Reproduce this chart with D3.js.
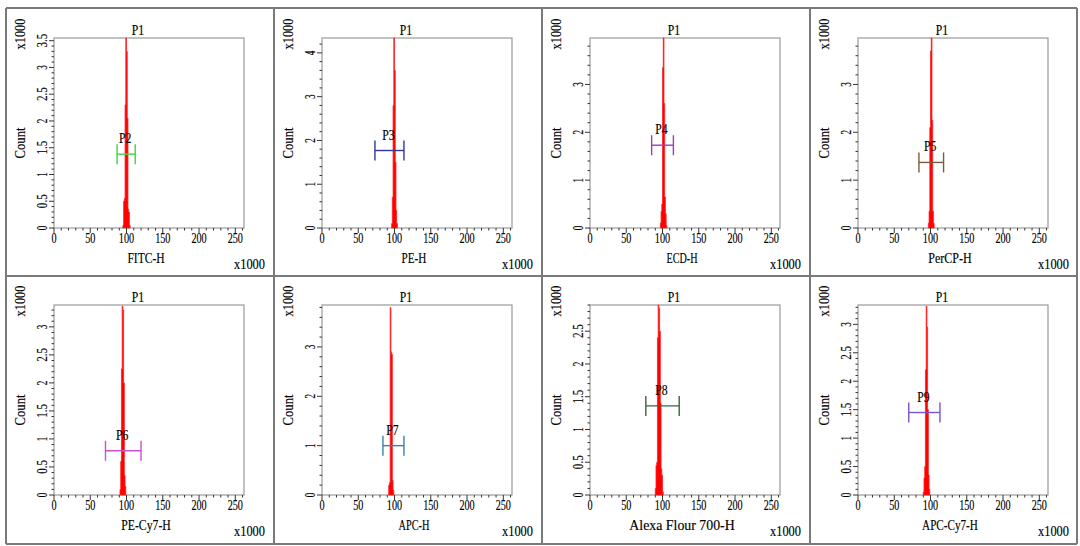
<!DOCTYPE html>
<html>
<head>
<meta charset="utf-8">
<script src="https://cdn.jsdelivr.net/npm/d3@7"></script>
<style>
  body { margin: 0; background: #fff; }
  text { font-family: "Liberation Serif", "DejaVu Serif", serif; font-size: 14px; fill: #000; stroke: #000; stroke-width: 0.15px; }
</style>
</head>
<body>
<svg id="chart" width="1080" height="546"></svg>
<script>

// channel names, one per panel (row by row)
var channels = ["FITC-H", "PE-H", "ECD-H", "PerCP-H", "PE-Cy7-H", "APC-H", "Alexa Flour 700-H", "APC-Cy7-H"];

// y axis max (count x1000) and labelled tick step
var yMax = [3.55, 4.34, 3.97, 3.97, 3.39, 3.85, 2.9, 3.34];
var yStep = [0.5, 1, 1, 1, 0.5, 1, 0.5, 0.5];

// histogram: first bin (x1000) and counts (x1000) per bin of width 1
var binStart = [95, 96, 97, 97, 91, 92, 90, 90];
var counts = [
	[0.05, 0.5, 0.55, 2.3, 3.55, 3.3, 2.05, 0.35, 0.3, 0.05],
	[0.1, 0.7, 2.8, 4.34, 3.6, 1.5, 0.4, 0.1],
	[0.1, 0.35, 0.5, 3.35, 3.97, 2.6, 0.65, 0.3, 0.05],
	[0.1, 0.35, 2.1, 3.7, 3.97, 2.25, 0.35, 0.1],
	[0.1, 0.6, 2.25, 3.37, 3.3, 2.0, 0.35, 0.15],
	[0.2, 0.25, 3.8, 2.9, 2.85, 0.3, 0.1],
	[0.1, 0.45, 0.5, 2.4, 2.9, 2.85, 2.5, 1.4, 0.4, 0.3, 0.05],
	[0.05, 0.3, 0.5, 2.2, 3.32, 2.95, 1.5, 0.35, 0.1]
];

// gate markers: name, left, right (x1000), level (count x1000), colour
var gateNames = ["P2", "P3", "P4", "P5", "P6", "P7", "P8", "P9"];
var gateLo = [87, 73, 85, 84, 71, 84, 77, 70];
var gateHi = [112, 113, 115, 118, 120, 113, 123, 113];
var gateY = [1.38, 1.77, 1.73, 1.37, 0.79, 1.0, 1.36, 1.45];
var gateColor = ["#3fd83f", "#34349a", "#9a3fb8", "#7a5c3a", "#cc4fcc", "#3a7fb0", "#376637", "#7a52cc"];

var xTicks = [0, 50, 100, 150, 200, 250];

var svg = d3.select("#chart");

var colX = [6, 274, 542, 810, 1077];
var rowY = [8, 276, 544];
var fw = 190, fh = 190;

function fit(sel, per) {
	sel.each(function() {
		var t = d3.select(this);
		t.attr("textLength", t.text().length * per).attr("lengthAdjust", "spacingAndGlyphs");
	});
}

function drawPanel(i) {
	var col = i % 4, row = Math.floor(i / 4);
	var fx = colX[col] + 48, fy = rowY[row] + (row == 0 ? 30 : 29);
	var g = svg.append("g").attr("transform", "translate(" + fx + "," + fy + ")");

	var x = d3.scaleLinear().domain([0, 262]).range([0, fw]);
	var y = d3.scaleLinear().domain([0, yMax[i]]).range([fh, 0]);

	g.append("rect")
		.attr("width", fw)
		.attr("height", fh)
		.attr("fill", "#fff")
		.attr("stroke", "#9a9a9a")
		.attr("stroke-width", 1.2);

	// histogram
	var pts = counts[i].map(function(c, k) { return [binStart[i] + k, c]; });
	pts.push([binStart[i] + counts[i].length, 0]);
	var area = d3.area()
		.x(function(d) { return x(d[0]); })
		.y0(fh)
		.y1(function(d) { return y(d[1]); })
		.curve(d3.curveStepAfter);
	g.append("path")
		.datum(pts)
		.attr("d", area)
		.attr("fill", "#f00")
		.attr("stroke", "#f22")
		.attr("stroke-width", 0.8);

	// x axis
	var xMinor = d3.range(0, 262, 10);
	g.selectAll(".xminor").data(xMinor).enter().append("line")
		.attr("x1", x).attr("x2", x)
		.attr("y1", fh).attr("y2", function(d) { return d % 50 == 0 ? fh + 5 : fh + 2.5; })
		.attr("stroke", "#333");
	var xl = g.selectAll(".xlab").data(xTicks).enter().append("text")
		.attr("x", x)
		.attr("y", fh + 10.5)
		.attr("dy", "0.35em")
		.attr("text-anchor", "middle")
		.text(function(d) { return d; });
	fit(xl, 5.1);

	// y axis
	var minor = yStep[i] / 5;
	var yMinor = d3.range(0, Math.floor(yMax[i] / minor + 1e-6) + 1).map(function(k) { return k * minor; });
	g.selectAll(".yminor").data(yMinor).enter().append("line")
		.attr("y1", y).attr("y2", y)
		.attr("x1", 0)
		.attr("x2", function(d, k) { return k % 5 == 0 ? -5 : -2.5; })
		.attr("stroke", "#333");
	var yMajor = d3.range(0, Math.floor(yMax[i] / yStep[i] + 1e-6) + 1).map(function(k) { return k * yStep[i]; });
	var yl = g.selectAll(".ylab").data(yMajor).enter().append("text")
		.attr("transform", function(d) { return "translate(-12," + y(d) + ") rotate(-90)"; })
		.attr("dy", "0.35em")
		.attr("text-anchor", "middle")
		.text(function(d) { return d3.format("~g")(+d.toFixed(1)); });
	fit(yl, 4.6);

	// labels
	var t = [];
	t.push(g.append("text").attr("x", 84).attr("y", -3).attr("text-anchor", "middle").text("P1"));
	t.push(g.append("text").attr("x", 92).attr("y", fh + 35).attr("text-anchor", "middle").text(channels[i]));
	t.push(g.append("text").attr("x", fw + 21).attr("y", fh + 41).attr("text-anchor", "end").text("x1000"));
	t.push(g.append("text").attr("transform", "translate(-34,-4) rotate(-90)").attr("dy", "0.35em")
		.attr("text-anchor", "middle").text("x1000"));
	t.push(g.append("text").attr("transform", "translate(-34,105) rotate(-90)").attr("dy", "0.35em")
		.attr("text-anchor", "middle").text("Count"));
	t.forEach(function(s) { fit(s, 6.2); });

	// gate marker
	var gy = y(gateY[i]), g1 = x(gateLo[i]), g2 = x(gateHi[i]);
	var gate = g.append("g")
		.attr("stroke", gateColor[i])
		.attr("stroke-width", 1.4);
	gate.append("line").attr("x1", g1).attr("x2", g2).attr("y1", gy).attr("y2", gy);
	gate.append("line").attr("x1", g1).attr("x2", g1).attr("y1", gy - 10).attr("y2", gy + 10);
	gate.append("line").attr("x1", g2).attr("x2", g2).attr("y1", gy - 10).attr("y2", gy + 10);
	var gl = g.append("text")
		.attr("x", (g1 + g2) / 2 - 1)
		.attr("y", gy - 11)
		.attr("text-anchor", "middle")
		.text(gateNames[i]);
	fit(gl, 6.2);
}

for (var i = 0; i < channels.length; i++) {
	drawPanel(i);
}

// panel borders
svg.selectAll(".vline").data(colX).enter().append("line")
	.attr("x1", function(d) { return d; }).attr("x2", function(d) { return d; })
	.attr("y1", rowY[0]).attr("y2", rowY[2])
	.attr("stroke", "#7a7a7a").attr("stroke-width", 2);
svg.selectAll(".hline").data(rowY).enter().append("line")
	.attr("y1", function(d) { return d; }).attr("y2", function(d) { return d; })
	.attr("x1", colX[0]).attr("x2", colX[4])
	.attr("stroke", "#7a7a7a").attr("stroke-width", 2);

</script>
</body>
</html>
